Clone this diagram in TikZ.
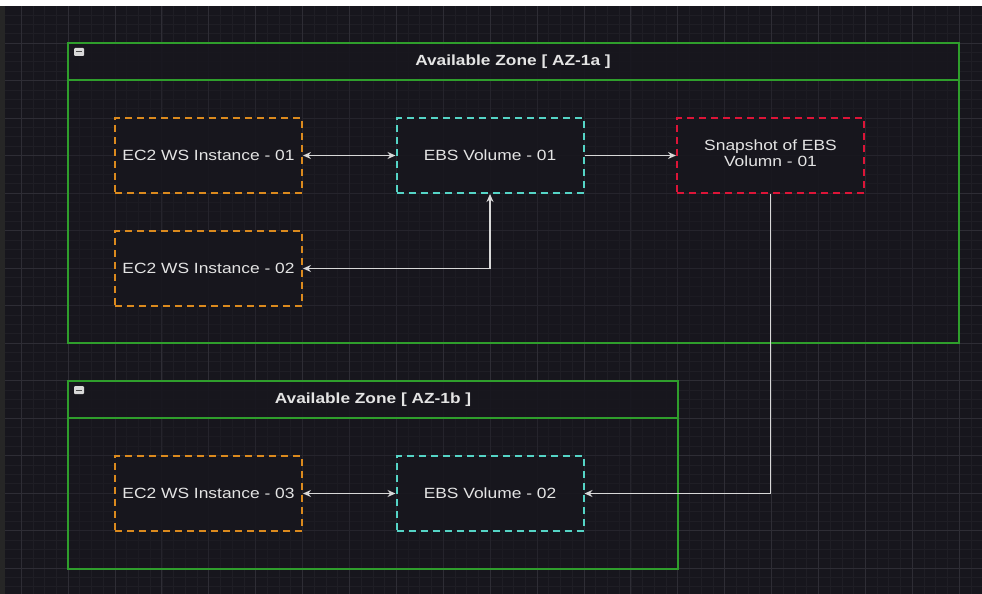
\documentclass[tikz,border=0pt]{standalone}
\usepackage{fontspec}
\setmainfont{Liberation Sans}
\usepackage{graphicx}
\usetikzlibrary{arrows.meta}
\definecolor{bgc}{HTML}{17161D}
\definecolor{gridminor}{HTML}{1F1E25}
\definecolor{gridmajor}{HTML}{2E2D35}
\definecolor{txtc}{HTML}{E4E4E4}
\definecolor{orangec}{HTML}{DB8A1E}
\definecolor{cyanc}{HTML}{55D4C6}
\definecolor{redc}{HTML}{DC1538}
\definecolor{greenc}{HTML}{2F9E2C}
\definecolor{linkc}{HTML}{D8D8D8}
\newcommand{\sqz}[1]{\scalebox{1}[0.85]{#1}}
\tikzset{
  x=1pt, y=-1pt,
  box/.style={rectangle, minimum width=187pt, minimum height=75pt, inner sep=0pt,
    fill=bgc, fill opacity=0.85, text opacity=1, line width=2pt,
    dash pattern=on 7pt off 5pt, text=txtc,
    font=\fontsize{17.4}{19.2}\selectfont},
  ecbox/.style={box, draw=orangec},
  ebsbox/.style={box, draw=cyanc},
  snapbox/.style={box, draw=redc},
  zone/.style={draw=greenc, line width=1.5pt, fill=bgc, fill opacity=0.35},
  zonehead/.style={draw=greenc, line width=1.5pt, fill=bgc, fill opacity=0.8},
  zonetitle/.style={text=txtc, font=\fontsize{17.3}{20}\selectfont\bfseries, inner sep=0pt},
  icon/.style={draw=none, fill=gray!30, rounded corners=1pt, minimum width=10pt, minimum height=8pt, inner sep=0pt},
  link/.style={draw=linkc, line width=1.5pt},
  arr/.style={link, -{Stealth[length=8pt,width=7pt]}},
  biarr/.style={link, {Stealth[length=8pt,width=7pt]}-{Stealth[length=8pt,width=7pt]}},
}
\begin{document}
\begin{tikzpicture}
\useasboundingbox (0,0) rectangle (982,594);
% background
\fill[bgc] (0,0) rectangle (982,594);
% minor grid
\foreach \i in {0,...,85} {
  \draw[gridminor, line width=0.6pt] ({21.1+\i*11.725},6) -- ({21.1+\i*11.725},594);
}
\foreach \j in {0,...,63} {
  \draw[gridminor, line width=0.6pt] (5,{5.5+\j*9.375}) -- (982,{5.5+\j*9.375});
}
% major grid
\foreach \i in {0,...,21} {
  \draw[gridmajor, line width=0.8pt] ({21.1+\i*46.9},6) -- ({21.1+\i*46.9},594);
}
\foreach \j in {0,...,16} {
  \draw[gridmajor, line width=0.8pt] (5,{5.5+\j*37.5}) -- (982,{5.5+\j*37.5});
}
% page edges
\fill[white] (0,0) rectangle (982,6);
\fill[black!85] (0,6) rectangle (5,594);

% Zone AZ-1a
\path[zone] (68,43) rectangle (959,343);
\path[zonehead] (68,43) rectangle (959,80);
\node[zonetitle] (t1) at (513,62) {\sqz{Available Zone [ AZ-1a ]}};
\node[icon] (i1) at (79,52) {};
\draw[black!70, line width=1pt] (i1.west) ++(2pt,0) -- ([xshift=-2pt]i1.east);

% Zone AZ-1b
\path[zone] (68,381) rectangle (678,569);
\path[zonehead] (68,381) rectangle (678,418);
\node[zonetitle] (t2) at (373,400) {\sqz{Available Zone [ AZ-1b ]}};
\node[icon] (i2) at (79,390) {};
\draw[black!70, line width=1pt] (i2.west) ++(2pt,0) -- ([xshift=-2pt]i2.east);

% nodes
\node[ecbox] (ec1) at (208.5,155.5) {\sqz{EC2 WS Instance - 01}};
\node[ebsbox] (ebs1) at (490,155.5) {\sqz{EBS Volume - 01}};
\node[snapbox] (snap) at (770.5,155.5) {\sqz{\begin{tabular}{@{}c@{}}Snapshot of EBS\\Volumn - 01\end{tabular}}};
\node[ecbox] (ec2) at (208.5,268.5) {\sqz{EC2 WS Instance - 02}};
\node[ecbox] (ec3) at (208.5,493.5) {\sqz{EC2 WS Instance - 03}};
\node[ebsbox] (ebs2) at (490,493.5) {\sqz{EBS Volume - 02}};

% connectors
\draw[biarr] (ec1) -- (ebs1);
\draw[arr] (ebs1) -- (snap);
\draw[biarr] (ec2) -| (ebs1);
\draw[arr] (snap) |- (ebs2);
\draw[biarr] (ec3) -- (ebs2);
\end{tikzpicture}
\end{document}
